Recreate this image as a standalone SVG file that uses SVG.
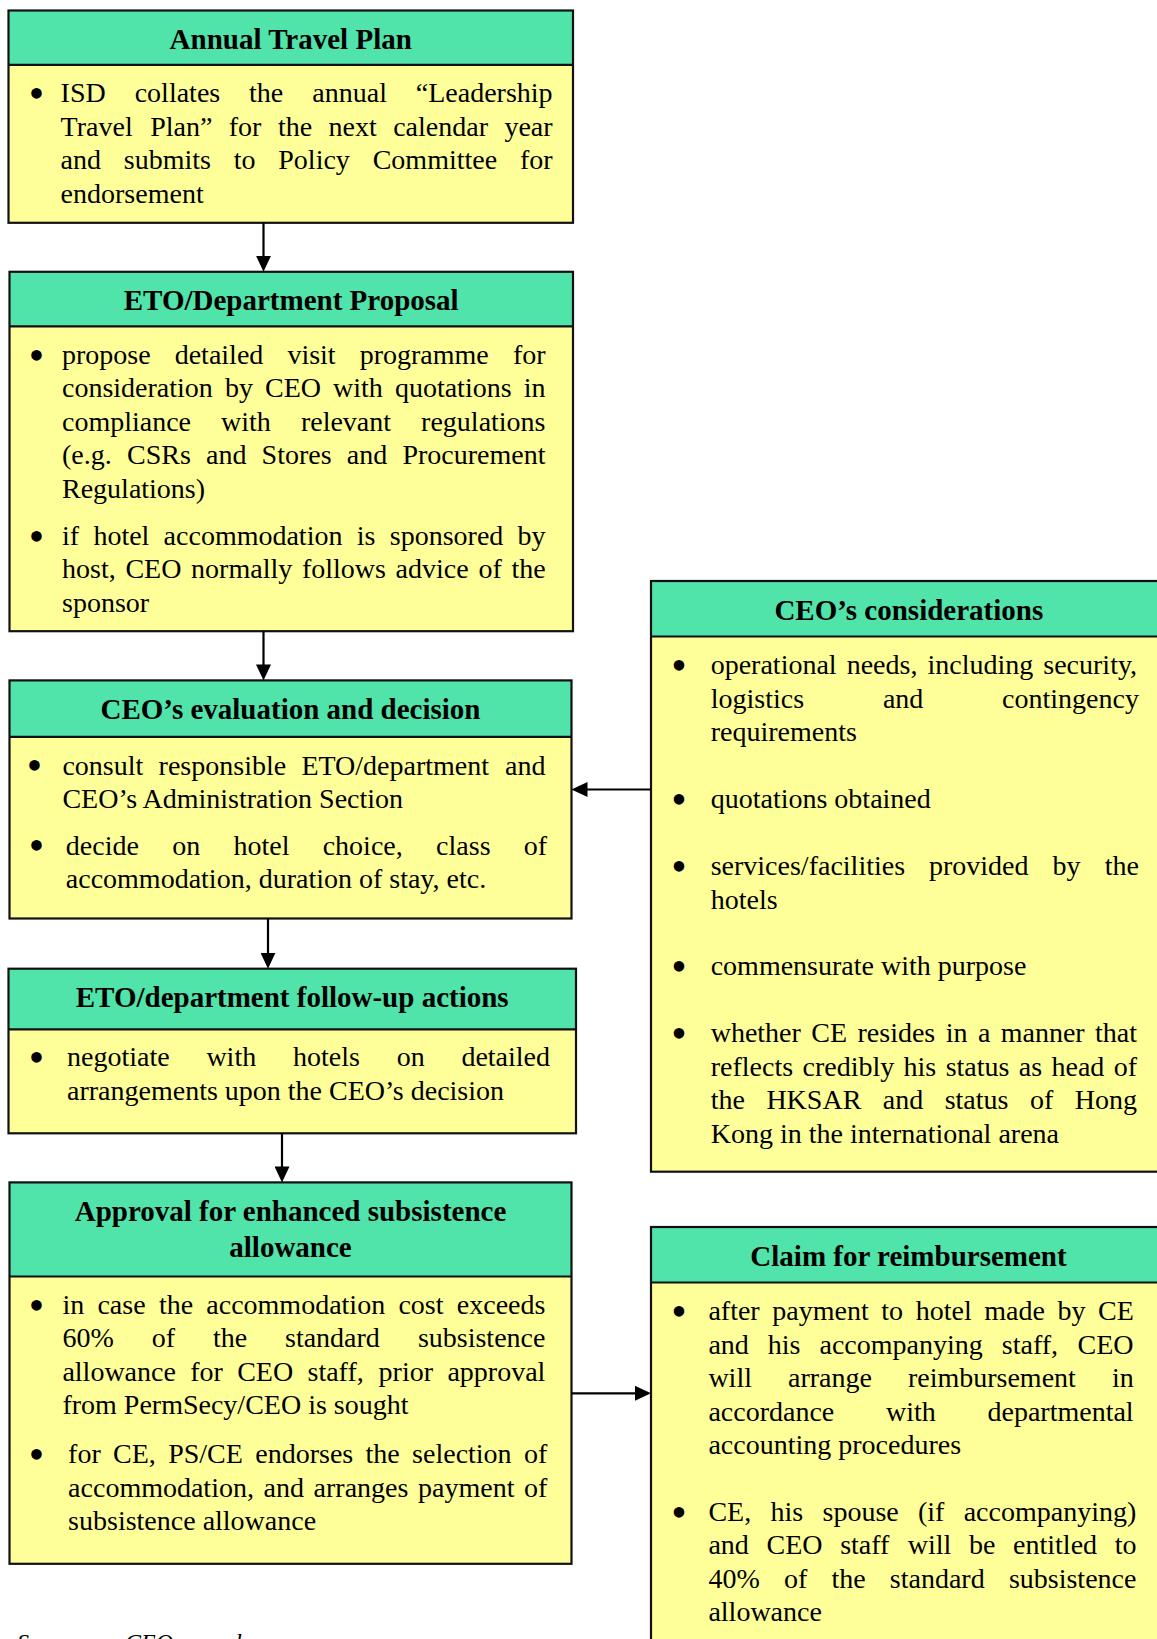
<svg xmlns="http://www.w3.org/2000/svg" width="1157" height="1639" viewBox="0 0 1157 1639">
<style>
.bd{fill:#FFFF99;stroke:none}
.hd{fill:#50E3AA;stroke:none}
.fr{fill:none;stroke:#111;stroke-width:2.2}
.ln{stroke:#111;stroke-width:2.2}
.t{font-family:"Liberation Serif","Times New Roman",serif;font-size:29px;font-weight:bold;fill:#000;text-anchor:middle}
.b{font-family:"Liberation Serif","Times New Roman",serif;font-size:28px;fill:#000}
.bu{font-family:"Liberation Serif","Times New Roman",serif;font-size:44px;fill:#000}
.src{font-family:"Liberation Serif","Times New Roman",serif;font-size:24px;font-style:italic;fill:#000}
.cn{stroke:#000;stroke-width:2.2;fill:none}
</style>
<defs>
<marker id="ah" markerUnits="userSpaceOnUse" markerWidth="16" markerHeight="15" refX="12" refY="7.5" orient="auto">
<path d="M0,0 L16,7.5 L0,15 z" fill="#000"/>
</marker>
</defs>
<rect width="1157" height="1639" fill="#fff"/>

<g id="annual-travel-plan">
<rect class="bd" x="8.5" y="10.5" width="564.5" height="212.3"/>
<rect class="hd" x="8.5" y="10.5" width="564.5" height="54.3"/>
<line class="ln" x1="8.5" y1="64.8" x2="573" y2="64.8"/>
<rect class="fr" x="8.5" y="10.5" width="564.5" height="212.3"/>
<text class="t" x="290.7" y="49.3">Annual Travel Plan</text>
<text class="bu" x="28.7" y="107.5">•</text>
<text class="b" y="102"><tspan x="60.6">ISD</tspan><tspan x="134.7">collates</tspan><tspan x="249.1">the</tspan><tspan x="312.3">annual</tspan><tspan x="415.8">“Leadership</tspan></text>
<text class="b" y="135.5"><tspan x="60.6">Travel</tspan><tspan x="150.2">Plan”</tspan><tspan x="228.8">for</tspan><tspan x="277.9">the</tspan><tspan x="328.5">next</tspan><tspan x="393.2">calendar</tspan><tspan x="504.4">year</tspan></text>
<text class="b" y="169"><tspan x="60.6">and</tspan><tspan x="123.8">submits</tspan><tspan x="233.7">to</tspan><tspan x="278.3">Policy</tspan><tspan x="372.7">Committee</tspan><tspan x="520">for</tspan></text>
<text class="b" x="60.6" y="202.5">endorsement</text>
</g>

<g id="eto-department-proposal">
<rect class="bd" x="9.5" y="271.8" width="563.5" height="359.4"/>
<rect class="hd" x="9.5" y="271.8" width="563.5" height="54.5"/>
<line class="ln" x1="9.5" y1="326.3" x2="573" y2="326.3"/>
<rect class="fr" x="9.5" y="271.8" width="563.5" height="359.4"/>
<text class="t" x="291.2" y="310.3">ETO/Department Proposal</text>
<text class="bu" x="28.7" y="369.5">•</text>
<text class="b" y="364"><tspan x="62">propose</tspan><tspan x="174.7">detailed</tspan><tspan x="287.4">visit</tspan><tspan x="359.7">programme</tspan><tspan x="512.9">for</tspan></text>
<text class="b" y="397.4"><tspan x="62">consideration</tspan><tspan x="225">by</tspan><tspan x="265">CEO</tspan><tspan x="333.1">with</tspan><tspan x="394.9">quotations</tspan><tspan x="523.7">in</tspan></text>
<text class="b" y="430.8"><tspan x="62">compliance</tspan><tspan x="221.1">with</tspan><tspan x="300.9">relevant</tspan><tspan x="421.1">regulations</tspan></text>
<text class="b" y="464.2"><tspan x="62">(e.g.</tspan><tspan x="127">CSRs</tspan><tspan x="206">and</tspan><tspan x="261.6">Stores</tspan><tspan x="346.8">and</tspan><tspan x="402.4">Procurement</tspan></text>
<text class="b" x="62" y="497.6">Regulations)</text>
<text class="bu" x="28.7" y="550.5">•</text>
<text class="b" y="545"><tspan x="62">if</tspan><tspan x="93.4">hotel</tspan><tspan x="163.6">accommodation</tspan><tspan x="356.8">is</tspan><tspan x="389.8">sponsored</tspan><tspan x="517.5">by</tspan></text>
<text class="b" y="578.4"><tspan x="62">host,</tspan><tspan x="125.4">CEO</tspan><tspan x="191.1">normally</tspan><tspan x="301.9">follows</tspan><tspan x="395.6">advice</tspan><tspan x="478.4">of</tspan><tspan x="511.4">the</tspan></text>
<text class="b" x="62" y="611.8">sponsor</text>
</g>

<g id="ceo-evaluation-decision">
<rect class="bd" x="9.5" y="680.4" width="562" height="238.1"/>
<rect class="hd" x="9.5" y="680.4" width="562" height="56.4"/>
<line class="ln" x1="9.5" y1="736.8" x2="571.5" y2="736.8"/>
<rect class="fr" x="9.5" y="680.4" width="562" height="238.1"/>
<text class="t" x="290.5" y="718.5">CEO’s evaluation and decision</text>
<text class="bu" x="26.7" y="780">•</text>
<text class="b" y="774.5"><tspan x="62.4">consult</tspan><tspan x="158.6">responsible</tspan><tspan x="301.4">ETO/department</tspan><tspan x="505">and</tspan></text>
<text class="b" x="62.4" y="807.8">CEO’s Administration Section</text>
<text class="bu" x="28.7" y="860">•</text>
<text class="b" y="854.5"><tspan x="65.8">decide</tspan><tspan x="172.2">on</tspan><tspan x="233.5">hotel</tspan><tspan x="322.7">choice,</tspan><tspan x="436.1">class</tspan><tspan x="523.7">of</tspan></text>
<text class="b" x="65.8" y="888">accommodation, duration of stay, etc.</text>
</g>

<g id="eto-followup-actions">
<rect class="bd" x="8.5" y="968.7" width="567.5" height="164.6"/>
<rect class="hd" x="8.5" y="968.7" width="567.5" height="60.7"/>
<line class="ln" x1="8.5" y1="1029.4" x2="576" y2="1029.4"/>
<rect class="fr" x="8.5" y="968.7" width="567.5" height="164.6"/>
<text class="t" x="292.2" y="1007.4">ETO/department follow-up actions</text>
<text class="bu" x="28.7" y="1071.7">•</text>
<text class="b" y="1066.2"><tspan x="67">negotiate</tspan><tspan x="206.4">with</tspan><tspan x="293">hotels</tspan><tspan x="396.7">on</tspan><tspan x="461.4">detailed</tspan></text>
<text class="b" x="67" y="1099.6">arrangements upon the CEO’s decision</text>
</g>

<g id="approval-enhanced-allowance">
<rect class="bd" x="9.5" y="1182.4" width="562" height="381.4"/>
<rect class="hd" x="9.5" y="1182.4" width="562" height="94.1"/>
<line class="ln" x1="9.5" y1="1276.5" x2="571.5" y2="1276.5"/>
<rect class="fr" x="9.5" y="1182.4" width="562" height="381.4"/>
<text class="t" x="290.5" y="1220.8">Approval for enhanced subsistence</text>
<text class="t" x="290.5" y="1256.8">allowance</text>
<text class="bu" x="28.7" y="1319.5">•</text>
<text class="b" y="1314"><tspan x="62.4">in</tspan><tspan x="97.4">case</tspan><tspan x="158.9">the</tspan><tspan x="206.3">accommodation</tspan><tspan x="398.4">cost</tspan><tspan x="456.8">exceeds</tspan></text>
<text class="b" y="1347.4"><tspan x="62.4">60%</tspan><tspan x="151.7">of</tspan><tspan x="212.9">the</tspan><tspan x="285">standard</tspan><tspan x="417.9">subsistence</tspan></text>
<text class="b" y="1380.8"><tspan x="62.4">allowance</tspan><tspan x="190.2">for</tspan><tspan x="237.2">CEO</tspan><tspan x="307.5">staff,</tspan><tspan x="378.6">prior</tspan><tspan x="447.4">approval</tspan></text>
<text class="b" x="62.4" y="1414.3">from PermSecy/CEO is sought</text>
<text class="bu" x="28.7" y="1468.9">•</text>
<text class="b" y="1463.4"><tspan x="68.1">for</tspan><tspan x="113.1">CE,</tspan><tspan x="168.2">PS/CE</tspan><tspan x="255.3">endorses</tspan><tspan x="365.6">the</tspan><tspan x="412.1">selection</tspan><tspan x="524">of</tspan></text>
<text class="b" y="1496.8"><tspan x="68.1">accommodation,</tspan><tspan x="263.6">and</tspan><tspan x="313.6">arranges</tspan><tspan x="418">payment</tspan><tspan x="524">of</tspan></text>
<text class="b" x="68.1" y="1530.3">subsistence allowance</text>
</g>

<g id="ceo-considerations">
<rect class="bd" x="651" y="581" width="516" height="590.7"/>
<rect class="hd" x="651" y="581" width="516" height="55.5"/>
<line class="ln" x1="651" y1="636.5" x2="1167" y2="636.5"/>
<rect class="fr" x="651" y="581" width="516" height="590.7"/>
<text class="t" x="908.8" y="619.6">CEO’s considerations</text>
<text class="bu" x="671.3" y="679.8">•</text>
<text class="b" y="674.3"><tspan x="710.7">operational</tspan><tspan x="846.7">needs,</tspan><tspan x="927.5">including</tspan><tspan x="1043.3">security,</tspan></text>
<text class="b" y="707.8"><tspan x="710.7">logistics</tspan><tspan x="882.9">and</tspan><tspan x="1002.1">contingency</tspan></text>
<text class="b" x="710.7" y="741.2">requirements</text>
<text class="bu" x="671.3" y="813.6">•</text>
<text class="b" x="710.7" y="808.1">quotations obtained</text>
<text class="bu" x="671.3" y="880.5">•</text>
<text class="b" y="875"><tspan x="710.7">services/facilities</tspan><tspan x="929">provided</tspan><tspan x="1052.6">by</tspan><tspan x="1104.8">the</tspan></text>
<text class="b" x="710.7" y="908.5">hotels</text>
<text class="bu" x="671.3" y="980.9">•</text>
<text class="b" x="710.7" y="975.4">commensurate with purpose</text>
<text class="bu" x="671.3" y="1047.8">•</text>
<text class="b" y="1042.3"><tspan x="710.7">whether</tspan><tspan x="811.3">CE</tspan><tspan x="857.5">resides</tspan><tspan x="945.7">in</tspan><tspan x="977.9">a</tspan><tspan x="1000.7">manner</tspan><tspan x="1095.1">that</tspan></text>
<text class="b" y="1075.8"><tspan x="710.7">reflects</tspan><tspan x="802.5">credibly</tspan><tspan x="903.6">his</tspan><tspan x="945.7">status</tspan><tspan x="1018.8">as</tspan><tspan x="1051.5">head</tspan><tspan x="1113.7">of</tspan></text>
<text class="b" y="1109.2"><tspan x="710.7">the</tspan><tspan x="766.4">HKSAR</tspan><tspan x="882.8">and</tspan><tspan x="944.7">status</tspan><tspan x="1030">of</tspan><tspan x="1074.8">Hong</tspan></text>
<text class="b" x="710.7" y="1142.7">Kong in the international arena</text>
</g>

<g id="claim-reimbursement">
<rect class="bd" x="651" y="1227" width="516" height="430"/>
<rect class="hd" x="651" y="1227" width="516" height="55.5"/>
<line class="ln" x1="651" y1="1282.5" x2="1167" y2="1282.5"/>
<rect class="fr" x="651" y="1227" width="516" height="430"/>
<text class="t" x="908.5" y="1265.8">Claim for reimbursement</text>
<text class="bu" x="671.3" y="1325.7">•</text>
<text class="b" y="1320.2"><tspan x="708.4">after</tspan><tspan x="772.3">payment</tspan><tspan x="881.3">to</tspan><tspan x="915.7">hotel</tspan><tspan x="984.3">made</tspan><tspan x="1057.5">by</tspan><tspan x="1098">CE</tspan></text>
<text class="b" y="1353.7"><tspan x="708.4">and</tspan><tspan x="767.8">his</tspan><tspan x="819.5">accompanying</tspan><tspan x="1001.8">staff,</tspan><tspan x="1077.6">CEO</tspan></text>
<text class="b" y="1387.1"><tspan x="708.4">will</tspan><tspan x="788">arrange</tspan><tspan x="907.9">reimbursement</tspan><tspan x="1111.9">in</tspan></text>
<text class="b" y="1420.6"><tspan x="708.4">accordance</tspan><tspan x="886">with</tspan><tspan x="987.5">departmental</tspan></text>
<text class="b" x="708.4" y="1454">accounting procedures</text>
<text class="bu" x="671.3" y="1526.5">•</text>
<text class="b" y="1521"><tspan x="708.4">CE,</tspan><tspan x="770.5">his</tspan><tspan x="822.5">spouse</tspan><tspan x="918">(if</tspan><tspan x="963.7">accompanying)</tspan></text>
<text class="b" y="1554.4"><tspan x="708.4">and</tspan><tspan x="766.5">CEO</tspan><tspan x="840.2">staff</tspan><tspan x="907.7">will</tspan><tspan x="969">be</tspan><tspan x="1013.1">entitled</tspan><tspan x="1114.7">to</tspan></text>
<text class="b" y="1587.9"><tspan x="708.4">40%</tspan><tspan x="783.9">of</tspan><tspan x="831.4">the</tspan><tspan x="889.8">standard</tspan><tspan x="1008.9">subsistence</tspan></text>
<text class="b" x="708.4" y="1621.3">allowance</text>
</g>

<g id="connectors">
<line class="cn" x1="263.5" y1="222.8" x2="263.5" y2="267.8" marker-end="url(#ah)"/>
<line class="cn" x1="263.5" y1="631.2" x2="263.5" y2="676.4" marker-end="url(#ah)"/>
<line class="cn" x1="268" y1="918.5" x2="268" y2="964.7" marker-end="url(#ah)"/>
<line class="cn" x1="282" y1="1133.3" x2="282" y2="1178.4" marker-end="url(#ah)"/>
<line class="cn" x1="651" y1="789.5" x2="575.5" y2="789.5" marker-end="url(#ah)"/>
<line class="cn" x1="571.5" y1="1393.3" x2="647" y2="1393.3" marker-end="url(#ah)"/>
</g>

<text class="src" y="1650"><tspan x="17">Source:</tspan><tspan x="125">CEO records</tspan></text>
</svg>
